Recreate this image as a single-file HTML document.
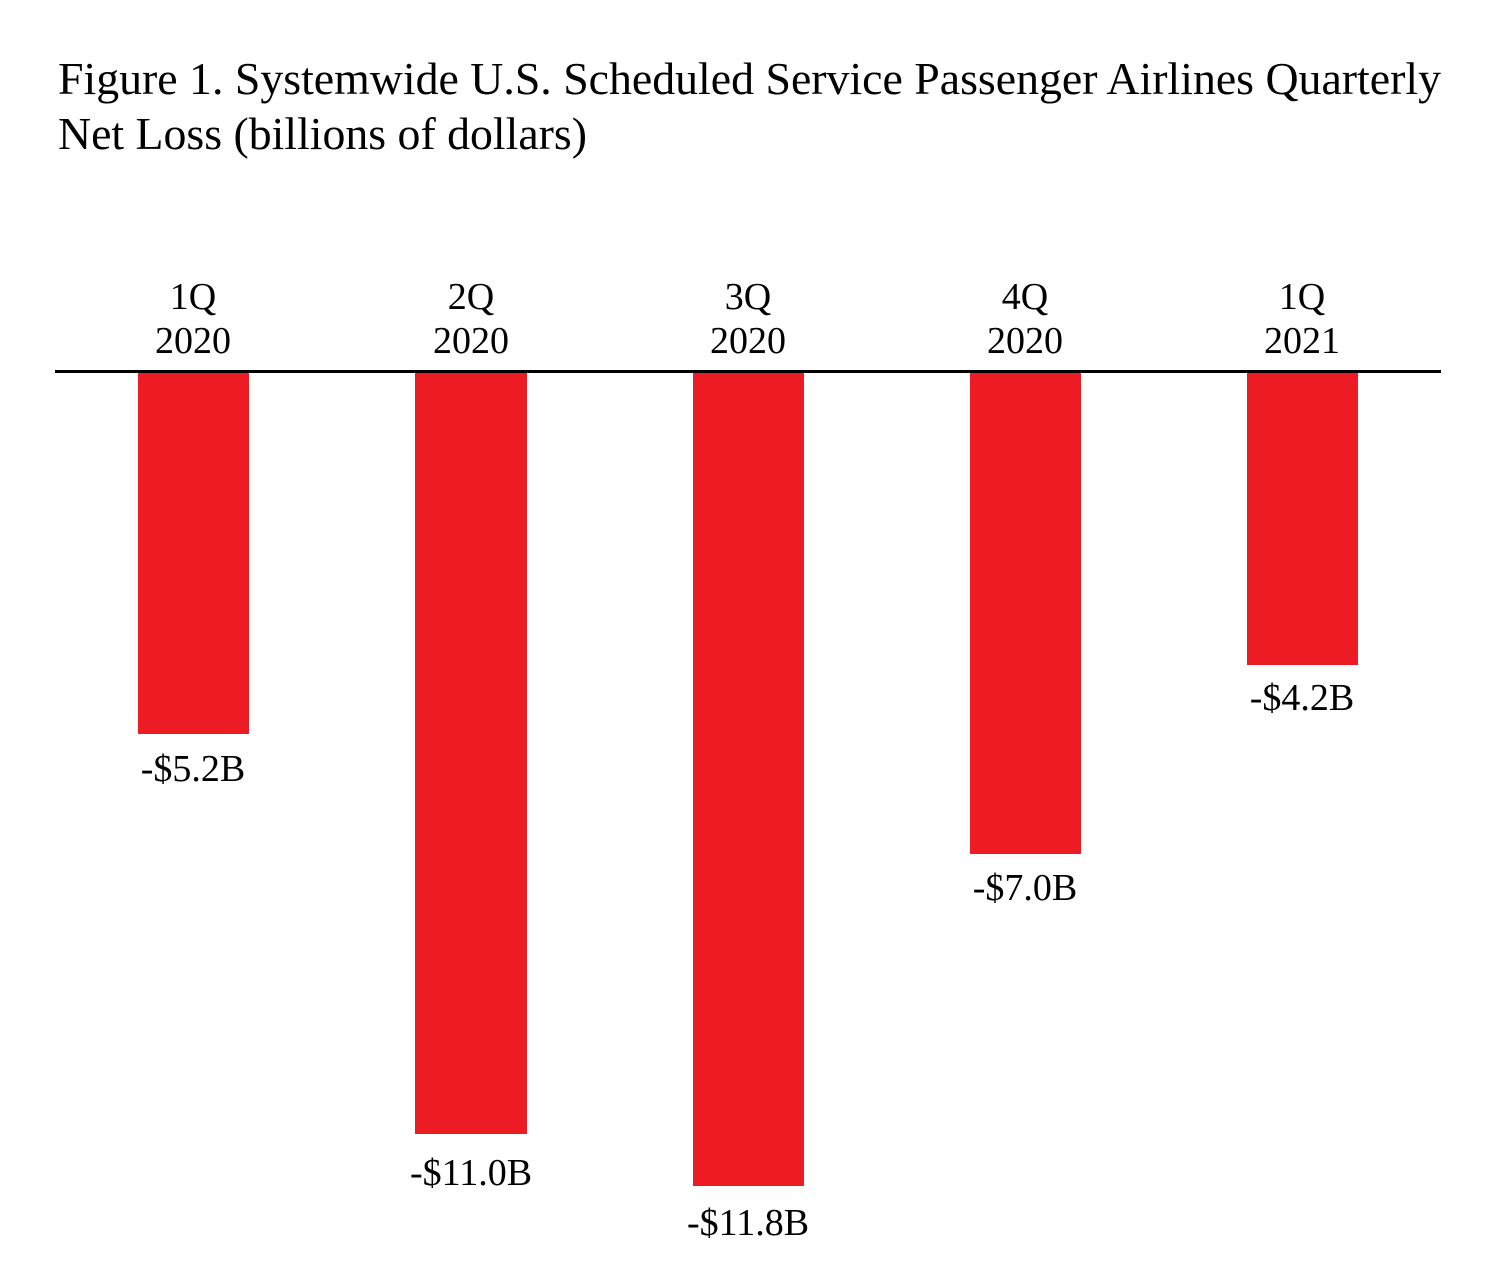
<!DOCTYPE html>
<html><head><meta charset="utf-8"><style>html,body{margin:0;padding:0;background:#fff}svg{display:block}</style></head>
<body>
<svg width="1499" height="1286" viewBox="0 0 1499 1286" xmlns="http://www.w3.org/2000/svg" font-family="'Liberation Serif', serif" fill="#000">
<text x="58" y="94" font-size="46" textLength="1383" lengthAdjust="spacingAndGlyphs">Figure 1. Systemwide U.S. Scheduled Service Passenger Airlines Quarterly</text>
<text x="58" y="149" font-size="46" textLength="529" lengthAdjust="spacingAndGlyphs">Net Loss (billions of dollars)</text>
<g fill="#ed1c24">
<rect x="138" y="372" width="111" height="362"/>
<rect x="415" y="372" width="112" height="762"/>
<rect x="693" y="372" width="111" height="814"/>
<rect x="970" y="372" width="111" height="482"/>
<rect x="1247" y="372" width="111" height="293"/>
</g>
<rect x="55" y="370" width="1386" height="3" fill="#000"/>
<g font-size="38" text-anchor="middle">
<text x="193" y="309">1Q</text><text x="193" y="353">2020</text>
<text x="471" y="309">2Q</text><text x="471" y="353">2020</text>
<text x="748" y="309">3Q</text><text x="748" y="353">2020</text>
<text x="1025" y="309">4Q</text><text x="1025" y="353">2020</text>
<text x="1302" y="309">1Q</text><text x="1302" y="353">2021</text>
<text x="193" y="781">-$5.2B</text>
<text x="471" y="1185">-$11.0B</text>
<text x="748" y="1235">-$11.8B</text>
<text x="1025" y="900">-$7.0B</text>
<text x="1302" y="710">-$4.2B</text>
</g>
</svg>
</body></html>
